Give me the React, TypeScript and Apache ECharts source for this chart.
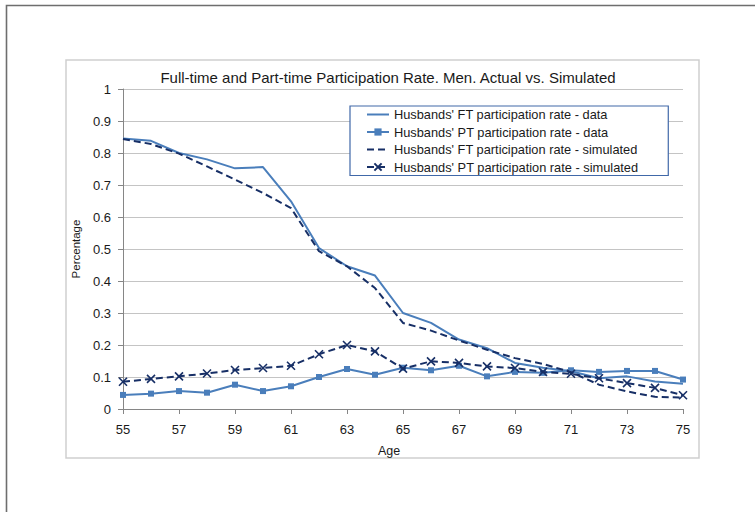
import React, { useEffect, useRef } from "react";
import * as echarts from "echarts";

const ages = [55, 56, 57, 58, 59, 60, 61, 62, 63, 64, 65, 66, 67, 68, 69, 70, 71, 72, 73, 74, 75];

const ftData = [0.845, 0.838, 0.8, 0.78, 0.752, 0.756, 0.649, 0.503, 0.446, 0.417, 0.3, 0.269, 0.217, 0.19, 0.144, 0.129, 0.118, 0.096, 0.102, 0.086, 0.079];
const ptData = [0.044, 0.048, 0.056, 0.051, 0.076, 0.056, 0.071, 0.1, 0.125, 0.107, 0.129, 0.121, 0.135, 0.102, 0.116, 0.113, 0.121, 0.116, 0.119, 0.119, 0.092];
const ftSim = [0.844, 0.828, 0.798, 0.758, 0.717, 0.675, 0.628, 0.493, 0.446, 0.378, 0.269, 0.245, 0.214, 0.185, 0.159, 0.141, 0.115, 0.076, 0.055, 0.038, 0.036];
const ptSim = [0.085, 0.094, 0.102, 0.111, 0.122, 0.128, 0.135, 0.171, 0.2, 0.18, 0.126, 0.149, 0.144, 0.133, 0.128, 0.116, 0.11, 0.096, 0.081, 0.066, 0.043];

const seriesNames = [
  "Husbands' FT participation rate - data",
  "Husbands' PT participation rate - data",
  "Husbands' FT participation rate - simulated",
  "Husbands' PT participation rate - simulated",
];

const yTicks = ["0", "0.1", "0.2", "0.3", "0.4", "0.5", "0.6", "0.7", "0.8", "0.9", "1"];

const LIGHT = "#4A7EBB";
const NAVY = "#172F66";
const INK = "#1a1a1a";
const FONT = "'Liberation Sans', Arial, sans-serif";
// invisible marker so plain lines show only a line sample in the legend
const NO_MARK = { color: "rgba(0,0,0,0)", borderWidth: 0 };

export default function App() {
  const ref = useRef<HTMLDivElement>(null);

  useEffect(() => {
    if (!ref.current) return;
    const chart = echarts.init(ref.current, undefined, { renderer: "svg" });
    chart.setOption({
      animation: false,
      backgroundColor: "#ffffff",
      textStyle: { fontFamily: FONT },
      title: [
        {
          text: "Full-time and Part-time Participation Rate. Men. Actual vs. Simulated",
          left: 383,
          top: 65,
          textAlign: "center",
          textStyle: { fontSize: 15, fontWeight: "normal", color: INK, fontFamily: FONT },
        },
        {
          text: "Age",
          left: 384,
          top: 439,
          textAlign: "center",
          textStyle: { fontSize: 12.5, fontWeight: "normal", color: INK, fontFamily: FONT },
        },
      ],
      graphic: [
        {
          type: "polyline",
          shape: { points: [[6.5, 512], [6.5, 5.5], [755, 5.5]] },
          style: { stroke: "#6e6e6e", lineWidth: 1.6, fill: "none" },
          silent: true,
        },
        {
          type: "rect",
          shape: { x: 66, y: 60, width: 633, height: 398 },
          style: { stroke: "#cfcfcf", lineWidth: 1.5, fill: "none" },
          silent: true,
          z: -1,
        },
      ],
      grid: { left: 123, right: 72, top: 89, bottom: 103 },
      legend: {
        orient: "vertical",
        left: 350,
        top: 106,
        padding: [2, 30, 2, 16],
        itemWidth: 22,
        itemHeight: 9,
        itemGap: 4.5,
        borderColor: "#4068A8",
        borderWidth: 1.2,
        backgroundColor: "#ffffff",
        textStyle: { fontSize: 12.8, color: INK, fontFamily: FONT },
        data: seriesNames,
      },
      xAxis: {
        type: "category",
        data: ages.map(String),
        boundaryGap: false,
        axisLine: { lineStyle: { color: "#868686", width: 1 } },
        axisTick: { show: true, interval: 1, length: 5, lineStyle: { color: "#868686" } },
        axisLabel: { interval: 1, color: INK, fontSize: 13, margin: 14 },
      },
      yAxis: {
        type: "value",
        min: 0,
        max: 1,
        interval: 0.1,
        name: "Percentage",
        nameLocation: "middle",
        nameGap: 41,
        nameTextStyle: { fontSize: 11.5, color: INK },
        axisLine: { show: true, lineStyle: { color: "#868686", width: 1 } },
        axisTick: { show: true, length: 5, lineStyle: { color: "#868686" } },
        axisLabel: {
          color: INK,
          fontSize: 13,
          margin: 12,
          formatter: (v: number) => yTicks[Math.round(v * 10)],
        },
        splitLine: { show: true, lineStyle: { color: "#c4c4c4", width: 1 } },
      },
      series: [
        {
          name: seriesNames[0],
          type: "line",
          data: ftData,
          symbol: "circle",
          showSymbol: false,
          lineStyle: { color: LIGHT, width: 2 },
          itemStyle: NO_MARK,
          z: 3,
        },
        {
          name: seriesNames[1],
          type: "line",
          data: ptData,
          symbol: "rect",
          symbolSize: 6,
          lineStyle: { color: LIGHT, width: 2 },
          itemStyle: { color: LIGHT },
          z: 3,
        },
        {
          name: seriesNames[2],
          type: "line",
          data: ftSim,
          symbol: "circle",
          showSymbol: false,
          lineStyle: { color: NAVY, width: 2, type: [7, 4] },
          itemStyle: NO_MARK,
          z: 4,
        },
        {
          name: seriesNames[3],
          type: "line",
          data: ptSim,
          symbol: "path://M0 0L10 10M10 0L0 10",
          symbolSize: 8,
          lineStyle: { color: NAVY, width: 2, type: [7, 4] },
          itemStyle: { color: NAVY, borderColor: NAVY, borderWidth: 1.6 },
          z: 4,
        },
      ],
    });
    return () => chart.dispose();
  }, []);

  return (
    <div
      ref={ref}
      style={{ position: "fixed", left: 0, top: 0, width: 755, height: 512 }}
    />
  );
}
